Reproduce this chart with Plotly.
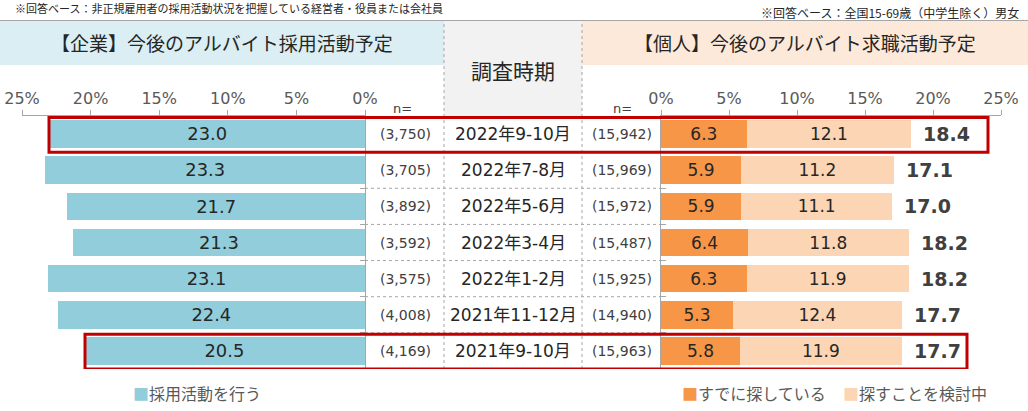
import plotly.graph_objects as go

# ---------------- data ----------------
dates = ["2022年9-10月", "2022年7-8月", "2022年5-6月", "2022年3-4月",
         "2022年1-2月", "2021年11-12月", "2021年9-10月"]
corp_rate = [23.0, 23.3, 21.7, 21.3, 23.1, 22.4, 20.5]
corp_n = ["(3,750)", "(3,705)", "(3,892)", "(3,592)", "(3,575)", "(4,008)", "(4,169)"]
already_searching = [6.3, 5.9, 5.9, 6.4, 6.3, 5.3, 5.8]
considering = [12.1, 11.2, 11.1, 11.8, 11.9, 12.4, 11.9]
indiv_total = [18.4, 17.1, 17.0, 18.2, 18.2, 17.7, 17.7]
indiv_n = ["(15,942)", "(15,969)", "(15,972)", "(15,487)", "(15,925)", "(14,940)", "(15,963)"]
tick_vals = [0, 5, 10, 15, 20, 25]
tick_text = ["0%", "5%", "10%", "15%", "20%", "25%"]
highlight_rows = [0, 6]

# ---------------- layout helpers ----------------
W, H = 1028, 411
def px(x):
    return x / W
def py(y):
    return 1 - y / H

BLUE = "#92CDDC"
DARK_OR = "#F79646"
LIGHT_OR = "#FCD5B4"
RED = "#C00000"
GRID = "#A6A6A6"
NUM_FONT = "DejaVu Sans, Noto Sans CJK JP"
JP_FONT = "Noto Sans CJK JP, DejaVu Sans"

plot_top, plot_bot = 116, 369
ydom = [py(plot_bot), py(plot_top)]

fig = go.Figure()

fig.add_trace(go.Bar(
    x=corp_rate, y=dates, orientation="h", xaxis="x", yaxis="y",
    marker=dict(color=BLUE, line=dict(width=0)),
    text=[f"{v:.1f}" for v in corp_rate], textposition="inside",
    insidetextanchor="middle", textangle=0,
    textfont=dict(family=NUM_FONT, size=20, color="#262626"),
    name="採用活動を行う", showlegend=False, hoverinfo="skip"))

fig.add_trace(go.Bar(
    x=already_searching, y=dates, orientation="h", xaxis="x2", yaxis="y2",
    marker=dict(color=DARK_OR, line=dict(width=0)),
    text=[f"{v:.1f}" for v in already_searching], textposition="inside",
    insidetextanchor="middle", textangle=0,
    textfont=dict(family=NUM_FONT, size=17, color="#262626"),
    name="すでに探している", showlegend=False, hoverinfo="skip"))

fig.add_trace(go.Bar(
    x=considering, y=dates, orientation="h", xaxis="x2", yaxis="y2",
    marker=dict(color=LIGHT_OR, line=dict(width=0)),
    text=[f"{v:.1f}" for v in considering], textposition="inside",
    insidetextanchor="middle", textangle=0,
    textfont=dict(family=NUM_FONT, size=17, color="#262626"),
    name="探すことを検討中", showlegend=False, hoverinfo="skip"))

annotations = []
shapes = []

def note(x, y, text, size, color="#262626", family=JP_FONT, xanchor="center", **kw):
    d = dict(x=x, y=y, text=text, showarrow=False, xanchor=xanchor, yanchor="middle",
             font=dict(family=family, size=size, color=color))
    d.setdefault("xref", "paper")
    d.setdefault("yref", "paper")
    d.update(kw)
    annotations.append(d)

# background bands (drawn below)
shapes.append(dict(type="rect", xref="paper", yref="paper", x0=px(0), x1=px(444),
                   y0=py(65), y1=py(21), fillcolor="#DAEEF3", line=dict(width=0), layer="below"))
shapes.append(dict(type="rect", xref="paper", yref="paper", x0=px(582), x1=px(1028),
                   y0=py(65), y1=py(21), fillcolor="#FDE9D9", line=dict(width=0), layer="below"))
shapes.append(dict(type="rect", xref="paper", yref="paper", x0=px(444), x1=px(582),
                   y0=py(116), y1=py(21), fillcolor="#F2F2F2", line=dict(width=0), layer="below"))
# top rule
shapes.append(dict(type="line", xref="paper", yref="paper", x0=0, x1=1,
                   y0=py(20.5), y1=py(20.5), line=dict(color="#A6A6A6", width=1)))
# vertical dotted lines
for xv in (444, 582):
    shapes.append(dict(type="line", xref="paper", yref="paper", x0=px(xv), x1=px(xv),
                       y0=py(plot_bot), y1=py(21), line=dict(color=GRID, width=1, dash="dot")))
# horizontal dotted row separators in the table
for k in range(len(dates) - 1):
    shapes.append(dict(type="line", xref="paper", yref="y", x0=px(365), x1=px(661),
                       y0=k + 0.5, y1=k + 0.5, line=dict(color=GRID, width=1, dash="dot")))

# totals
for d, s in zip(dates, indiv_total):
    note(s, d, f"<b>{s:.1f}</b>", 19, color="#404040", family=NUM_FONT, xanchor="left",
         xref="x2", yref="y2", xshift=10)
# table text
for d, n1, n2 in zip(dates, corp_n, indiv_n):
    note(px(405), d, n1, 14, color="#404040", family=NUM_FONT, yref="y")
    note(px(513), d, d, 17, color="#262626", family=NUM_FONT, yref="y")
    note(px(622), d, n2, 14, color="#404040", family=NUM_FONT, yref="y")
for xv in (402, 622):
    note(px(xv), py(108), "n=", 13, color="#404040", family=NUM_FONT)

# red highlight boxes
box_x = {0: (49, 988), 6: (85, 967)}
for r in highlight_rows:
    x0, x1 = box_x[r]
    shapes.append(dict(type="rect", xref="paper", yref="y", x0=px(x0), x1=px(x1),
                       y0=r - 0.46, y1=r + 0.5, line=dict(color=RED, width=3),
                       fillcolor="rgba(0,0,0,0)"))

# titles & notes
note(px(222), py(43), "【企業】今後のアルバイト採用活動予定", 19)
note(px(805), py(43), "【個人】今後のアルバイト求職活動予定", 19)
note(px(513), py(70), "調査時期", 21)
note(px(13), py(8), "※回答ベース：非正規雇用者の採用活動状況を把握している経営者・役員または会社員",
     11, xanchor="left")
note(px(1021), py(13), "※回答ベース：全国15-69歳（中学生除く）男女", 12, xanchor="right")

# legend
leg = [(131, BLUE, "採用活動を行う"), (680, DARK_OR, "すでに探している"), (841, LIGHT_OR, "探すことを検討中")]
for xv, c, t in leg:
    note(px(xv), py(393), f"<span style='color:{c}'>■</span>{t}", 16, color="#595959",
         xanchor="left")

axis_common = dict(showgrid=False, zeroline=False, side="top", tickvals=tick_vals,
                   ticktext=tick_text, ticks="outside", ticklen=5, tickcolor="#A6A6A6",
                   showline=True, linecolor="#A6A6A6", linewidth=1, automargin=False,
                   tickfont=dict(family=NUM_FONT, size=16, color="#595959"), fixedrange=True)
yaxis_common = dict(domain=ydom, range=[6.5, -0.5], type="category", showgrid=False,
                    zeroline=False, showticklabels=False, showline=True, linecolor="#A6A6A6",
                    ticks="inside", tickson="boundaries", ticklen=5, tickcolor="#A6A6A6",
                    automargin=False, fixedrange=True, categoryorder="array",
                    categoryarray=dates)

fig.update_layout(
    width=W, height=H, margin=dict(l=0, r=0, t=0, b=0, pad=0), autosize=False,
    paper_bgcolor="white", plot_bgcolor="rgba(0,0,0,0)",
    barmode="stack", bargap=0.24, showlegend=False,
    xaxis=dict(domain=[px(22), px(365)], range=[25, 0], anchor="y", **axis_common),
    xaxis2=dict(domain=[px(661), px(1001)], range=[0, 25], anchor="y2", **axis_common),
    yaxis=dict(anchor="x", side="right", **yaxis_common),
    yaxis2=dict(anchor="x2", side="left", **yaxis_common),
    shapes=shapes, annotations=annotations,
)

fig.write_html("out.html", config={"displayModeBar": False, "staticPlot": True},
               post_script="document.body.style.margin='0';document.body.style.overflow='hidden';")
